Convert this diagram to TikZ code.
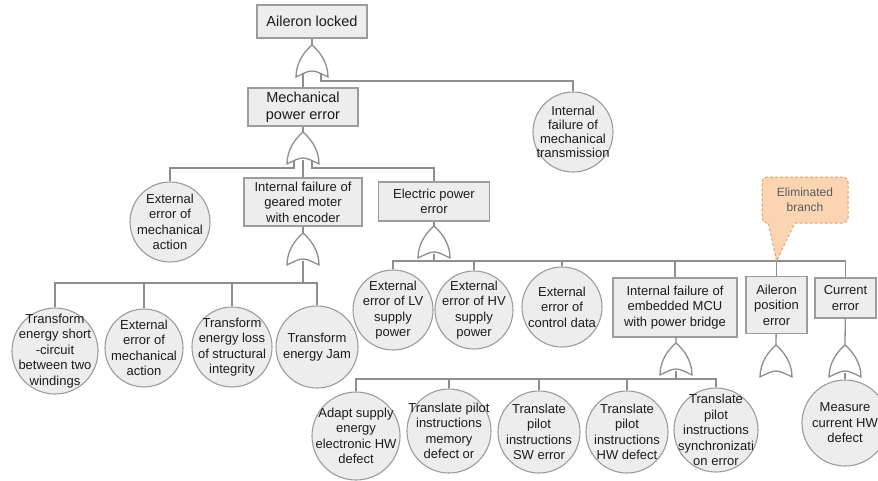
\documentclass[tikz,border=0pt]{standalone}
\usepackage{fontspec}
\setmainfont{Liberation Sans}
\usetikzlibrary{calc}

\definecolor{linegray}{HTML}{8E8E8E}
\definecolor{boxfill}{HTML}{EDEDED}
\definecolor{boxline}{HTML}{9C9C9C}
\definecolor{inktext}{HTML}{1C1C1C}
\definecolor{calloutfill}{HTML}{FBD5B3}
\definecolor{calloutline}{HTML}{E3A064}
\definecolor{callouttext}{HTML}{5A5A5A}

\tikzset{
  wire/.style={draw=linegray, line width=1.3pt},
  evbox/.style={rectangle, draw=boxline, fill=boxfill, line width=1.1pt,
    inner sep=1pt, align=center, text=inktext,
    font=\fontsize{13}{15.5}\selectfont},
  topbox/.style={evbox, font=\fontsize{14.5}{17}\selectfont},
  ev/.style={circle, draw=boxline, fill=boxfill, line width=1.1pt,
    inner sep=0pt, minimum size=#1},
  evtext/.style={align=center, text=inktext, inner sep=0pt,
    font=\fontsize{13}{15.5}\selectfont},
  gateline/.style={draw=linegray, fill=white, line width=1.3pt},
  calloutbox/.style={rectangle, rounded corners=5pt, draw=calloutline,
    fill=calloutfill, line width=1pt, dash pattern=on 3pt off 2pt,
    align=center, text=callouttext, font=\fontsize{12}{15}\selectfont},
  % OR gate, origin at its tip, inputs on the concave base
  orgate/.pic={
    \path[gateline] (-16,32) .. controls (-16,17) and (-7,6) .. (0,0)
      .. controls (7,6) and (16,17) .. (16,32)
      .. controls (0,24) .. (-16,32) -- cycle;
    \coordinate (-top) at (0,0);
    \coordinate (-c) at (0,28);
    \coordinate (-l) at (-9,29.3);
    \coordinate (-r) at (9,29.3);
  }
}

\begin{document}
\begin{tikzpicture}[x=1pt, y=-1pt]
\useasboundingbox (0,0) rectangle (878,480);

% bus levels
\coordinate (bus1) at (0,81);
\coordinate (bus2) at (0,168);
\coordinate (bus3) at (0,283);
\coordinate (bus4) at (0,261);
\coordinate (bus5) at (0,379);

% events (boxes)
\node[topbox, minimum width=110pt, minimum height=33pt] (locked) at (312,21.5) {Aileron locked};
\node[topbox, minimum width=110pt, minimum height=38pt] (mech) at (303,107) {Mechanical\\power error};
\node[evbox, minimum width=118pt, minimum height=48pt] (geared) at (303,202) {Internal failure of\\geared moter\\with encoder};
\node[evbox, minimum width=111pt, minimum height=39pt] (elec) at (434,201.5) {Electric power\\error};
\node[evbox, minimum width=124pt, minimum height=59pt] (mcu) at (675,307.5) {Internal failure of\\embedded MCU\\with power bridge};
\node[evbox, minimum width=61pt, minimum height=57pt] (apos) at (776.5,305) {Aileron\\position\\error};
\node[evbox, minimum width=61pt, minimum height=40pt] (cur) at (845.5,298) {Current\\error};

% basic events (circles)
\node[ev=80pt, label={[evtext, font=\fontsize{13}{14}\selectfont]center:{Internal\\failure of\\mechanical\\transmission}}] (trans) at (573,132) {};
\node[ev=80pt, label={[evtext]center:{External\\error of\\mechanical\\action}}] (ext1) at (170,222) {};

\node[ev=86pt, label={[evtext]center:{Transform\\energy short\\-circuit\\between two\\windings}}] (t1) at (55,351) {};
\node[ev=78pt, label={[evtext]center:{External\\error of\\mechanical\\action}}] (t2) at (144,348) {};
\node[ev=80pt, label={[evtext]center:{Transform\\energy loss\\of structural\\integrity}}] (t3) at (232,347) {};
\node[ev=82pt, label={[evtext]center:{Transform\\energy Jam}}] (t4) at (317,347) {};

\node[ev=80pt, label={[evtext]center:{External\\error of LV\\supply\\power}}] (lv) at (393,310) {};
\node[ev=78pt, label={[evtext]center:{External\\error of HV\\supply\\power}}] (hv) at (474,310) {};
\node[ev=80pt, label={[evtext]center:{External\\error of\\control data}}] (ctl) at (562,307) {};

\node[ev=88pt, label={[evtext]center:{Adapt supply\\energy\\electronic HW\\defect}}] (b1) at (356,436) {};
\node[ev=84pt, label={[evtext]center:{Translate pilot\\instructions\\memory\\defect or}}] (b2) at (449,431) {};
\node[ev=82pt, label={[evtext]center:{Translate\\pilot\\instructions\\SW error}}] (b3) at (539,432) {};
\node[ev=82pt, label={[evtext]center:{Translate\\pilot\\instructions\\HW defect}}] (b4) at (627,432) {};
\node[ev=84pt, label={[evtext]center:{Translate\\pilot\\instructions\\synchronizati\\on error}}] (b5) at (716,430) {};
\node[ev=86pt, label={[evtext]center:{Measure\\current HW\\defect}}] (meas) at (845,423) {};

% gates
\pic (g1) at (312,45) {orgate};
\pic (g2) at (303,132) {orgate};
\pic (g3) at (303,233) {orgate};
\pic (g4) at (434,226) {orgate};
\pic (g5) at (676,343) {orgate};
\pic (g6) at (776,345) {orgate};
\pic (g7) at (845,345) {orgate};

% top level
\draw[wire] (locked) -- (g1-top);
\draw[wire] (g1-l) -- (g1-l |- mech.north);
\draw[wire] (g1-r) -- (g1-r |- bus1) -| (trans.north);

% mechanical power error
\draw[wire] (mech) -- (g2-top);
\draw[wire] (g2-l) -- (g2-l |- bus2) -| (ext1.north);
\draw[wire] (g2-c) -- (g2-c |- geared.north);
\draw[wire] (g2-r) -- (g2-r |- bus2) -| (elec.north);

% geared motor
\draw[wire] (geared) -- (g3-top);
\draw[wire] (g3-c) -- (g3-c |- bus3);
\draw[wire] (t1.north) -- (t1.north |- bus3) -- (t4.north |- bus3) -- (t4.north);
\draw[wire] (t2.north) -- (t2.north |- bus3);
\draw[wire] (t3.north) -- (t3.north |- bus3);

% electric power error
\draw[wire] (elec) -- (g4-top);
\draw[wire] (g4-c) -- (g4-c |- bus4);
\draw[wire] (lv.north) -- (lv.north |- bus4) -- (cur.north |- bus4) -- (cur.north);
\draw[wire] (hv.north) -- (hv.north |- bus4);
\draw[wire] (ctl.north) -- (ctl.north |- bus4);
\draw[wire] (mcu.north) -- (mcu.north |- bus4);
\draw[wire] (apos.north) -- (apos.north |- bus4);

% MCU
\draw[wire] (mcu) -- (g5-top);
\draw[wire] (g5-c) -- (g5-c |- bus5);
\draw[wire] (b1.north) -- (b1.north |- bus5) -- (b5.north |- bus5) -- (b5.north);
\draw[wire] (b2.north) -- (b2.north |- bus5);
\draw[wire] (b3.north) -- (b3.north |- bus5);
\draw[wire] (b4.north) -- (b4.north |- bus5);

% aileron position and current
\draw[wire] (apos) -- (g6-top);
\draw[wire] (cur) -- (g7-top);
\draw[wire] (g7-c) -- (meas.north);

% callout
\node[calloutbox, minimum width=86pt, minimum height=46pt] (elim) at (805,200) {Eliminated\\branch};
\coordinate (tip) at (apos.north |- bus4);
\fill[calloutfill] ($(elim.south west)+(7,-1.5)$) -- (tip) -- ($(elim.south west)+(33,-1.5)$) -- cycle;
\draw[calloutline, line width=1pt, dash pattern=on 3pt off 2pt]
  ($(elim.south west)+(7,0)$) -- (tip) -- ($(elim.south west)+(33,0)$);
\end{tikzpicture}
\end{document}
